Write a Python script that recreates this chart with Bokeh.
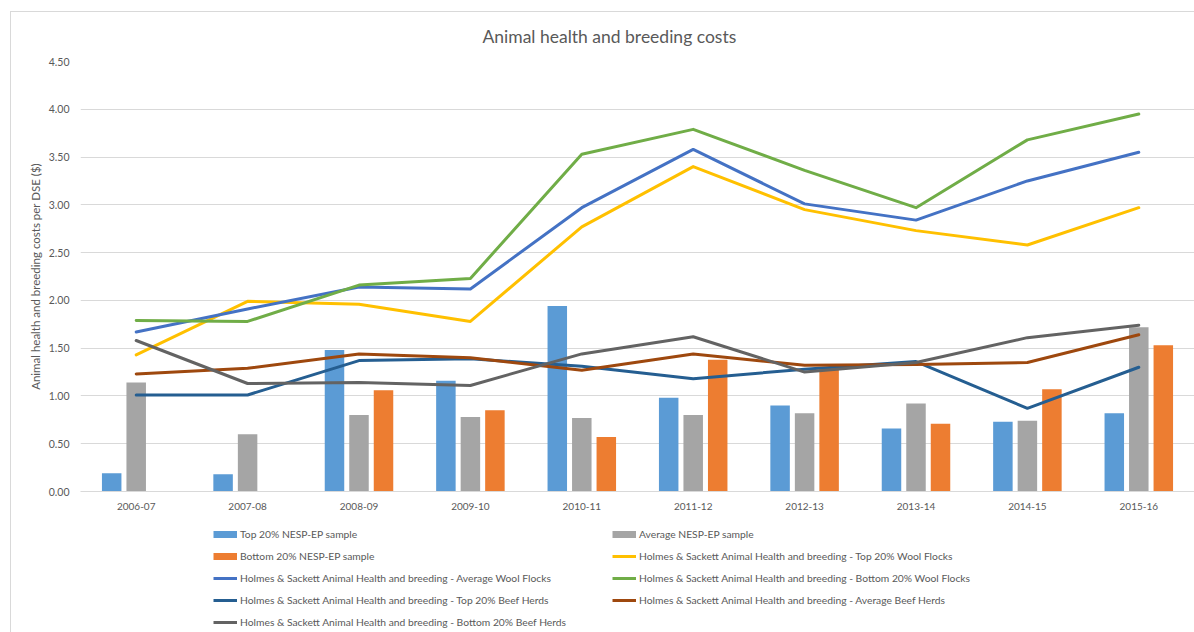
import numpy as np
from bokeh.plotting import figure
from bokeh.layouts import column
from bokeh.models import (ColumnDataSource, FactorRange, Range1d, Legend, LegendItem,
                          NumeralTickFormatter, FixedTicker, Div)
from bokeh.transform import dodge
from bokeh.embed import file_html
from bokeh.resources import INLINE

# ---------------- data ----------------
years = ["2006-07", "2007-08", "2008-09", "2009-10", "2010-11",
         "2011-12", "2012-13", "2013-14", "2014-15", "2015-16"]

top20_nesp = [0.19, 0.18, 1.48, 1.16, 1.94, 0.98, 0.90, 0.66, 0.73, 0.82]
avg_nesp = [1.14, 0.60, 0.80, 0.78, 0.77, 0.80, 0.82, 0.92, 0.74, 1.72]
bottom20_nesp = [np.nan, np.nan, 1.06, 0.85, 0.57, 1.38, 1.29, 0.71, 1.07, 1.53]

hs_top_wool = [1.43, 1.99, 1.96, 1.78, 2.77, 3.40, 2.95, 2.73, 2.58, 2.97]
hs_avg_wool = [1.67, 1.91, 2.14, 2.12, 2.97, 3.58, 3.01, 2.84, 3.25, 3.55]
hs_bottom_wool = [1.79, 1.78, 2.16, 2.23, 3.53, 3.79, 3.36, 2.97, 3.68, 3.95]
hs_top_beef = [1.01, 1.01, 1.37, 1.39, 1.31, 1.18, 1.28, 1.36, 0.87, 1.30]
hs_avg_beef = [1.23, 1.29, 1.44, 1.40, 1.27, 1.44, 1.32, 1.33, 1.35, 1.64]
hs_bottom_beef = [1.58, 1.13, 1.14, 1.11, 1.44, 1.62, 1.25, 1.35, 1.61, 1.74]

y_ticks = [0.0, 0.5, 1.0, 1.5, 2.0, 2.5, 3.0, 3.5, 4.0, 4.5]

title_text = "Animal health and breeding costs"
y_title = "Animal health and breeding costs per DSE ($)"

bar_series = [
    ("Top 20% NESP-EP sample", "top20_nesp", "#5B9BD5", -0.22),
    ("Average NESP-EP sample", "avg_nesp", "#A5A5A5", 0.0),
    ("Bottom 20% NESP-EP sample", "bottom20_nesp", "#ED7D31", 0.22),
]
line_series = [
    ("Holmes & Sackett Animal Health and breeding - Top 20% Wool Flocks", hs_top_wool, "#FFC000"),
    ("Holmes & Sackett Animal Health and breeding - Average Wool Flocks", hs_avg_wool, "#4472C4"),
    ("Holmes & Sackett Animal Health and breeding - Bottom 20% Wool Flocks", hs_bottom_wool, "#70AD47"),
    ("Holmes & Sackett Animal Health and breeding - Top 20% Beef Herds", hs_top_beef, "#255E91"),
    ("Holmes & Sackett Animal Health and breeding - Average Beef Herds", hs_avg_beef, "#9E480E"),
    ("Holmes & Sackett Animal Health and breeding - Bottom 20% Beef Herds", hs_bottom_beef, "#636363"),
]

FONT = "Lato"
TXT = "#595959"

source = ColumnDataSource(data=dict(
    year=years,
    top20_nesp=np.array(top20_nesp, dtype=float),
    avg_nesp=np.array(avg_nesp, dtype=float),
    bottom20_nesp=np.array(bottom20_nesp, dtype=float),
))

# ---------------- main chart ----------------
p = figure(x_range=FactorRange(*years), y_range=Range1d(0, 4.5),
           width=1194, height=520, output_backend="svg", toolbar_location=None,
           min_border_left=80, min_border_right=0, min_border_top=61, min_border_bottom=29)
p.outline_line_color = None
p.background_fill_color = "white"
p.border_fill_color = "white"

p.title.text = title_text
p.title.align = "left"
p.title.offset = 402
p.title.standoff = 30
p.title.text_font = FONT
p.title.text_font_size = "17.5px"
p.title.text_font_style = "normal"
p.title.text_color = TXT

for name, key, color, off in bar_series:
    p.vbar(x=dodge("year", off, range=p.x_range), top=key, width=0.175, source=source,
           fill_color=color, line_color=None)

for name, vals, color in line_series:
    p.line(x=years, y=vals, line_color=color, line_width=3,
           line_join="round", line_cap="round")

p.yaxis.ticker = FixedTicker(ticks=y_ticks)
p.yaxis.formatter = NumeralTickFormatter(format="0.00")
p.yaxis.axis_line_color = None
p.yaxis.major_tick_line_color = None
p.yaxis.minor_tick_line_color = None
p.yaxis.major_tick_out = 0
p.yaxis.major_tick_in = 0
p.yaxis.major_label_standoff = 11
p.yaxis.major_label_text_font = FONT
p.yaxis.major_label_text_font_size = "10.5px"
p.yaxis.major_label_text_color = TXT
p.yaxis.axis_label = y_title
p.yaxis.axis_label_text_font = FONT
p.yaxis.axis_label_text_font_size = "11.5px"
p.yaxis.axis_label_text_font_style = "normal"
p.yaxis.axis_label_text_color = TXT
p.yaxis.axis_label_standoff = 4

p.xaxis.axis_line_color = "#D9D9D9"
p.xaxis.major_tick_line_color = None
p.xaxis.minor_tick_line_color = None
p.xaxis.major_tick_out = 0
p.xaxis.major_tick_in = 0
p.xaxis.major_label_standoff = 11
p.xaxis.major_label_text_font = FONT
p.xaxis.major_label_text_font_size = "10px"
p.xaxis.major_label_text_color = TXT

p.xgrid.grid_line_color = None
p.ygrid.grid_line_color = "#D9D9D9"
p.ygrid.grid_line_width = 1

# ---------------- legend strip ----------------
q = figure(width=1194, height=112, output_backend="svg", toolbar_location=None,
           x_range=Range1d(0, 1), y_range=Range1d(0, 1),
           x_axis_location=None, y_axis_location=None,
           min_border_left=0, min_border_right=0, min_border_top=0, min_border_bottom=0)
q.outline_line_color = None
q.xgrid.grid_line_color = None
q.ygrid.grid_line_color = None
q.background_fill_color = "white"
q.border_fill_color = "white"

# legend swatch renderers (kept outside the visible range)
swatch = {}
for name, key, color, off in bar_series:
    swatch[name] = q.line(x=[0, 1], y=[-5, -5], line_color=color, line_width=7)
for name, vals, color in line_series:
    swatch[name] = q.line(x=[0, 1], y=[-5, -5], line_color=color, line_width=3)


def make_legend(entries, loc):
    return Legend(items=[LegendItem(label=n, renderers=[swatch[n]]) for n in entries],
                  location=loc, orientation="vertical",
                  glyph_width=24, glyph_height=22, label_height=22, spacing=0,
                  padding=0, margin=0, label_standoff=3,
                  border_line_color=None, background_fill_alpha=0,
                  label_text_font=FONT, label_text_font_size="10.3px",
                  label_text_color=TXT)


q.add_layout(make_legend([
    "Top 20% NESP-EP sample",
    "Bottom 20% NESP-EP sample",
    line_series[1][0],
    line_series[3][0],
    line_series[5][0],
], (133, -1)))
q.add_layout(make_legend([
    "Average NESP-EP sample",
    line_series[0][0],
    line_series[2][0],
    line_series[4][0],
], (532, 21)))

# thin chart-area border, as in the original
frame_div = Div(text="", width=1190, height=630,
                styles={"position": "absolute", "left": "5px", "top": "6px",
                        "width": "1190px", "height": "630px",
                        "border-left": "1px solid #D9D9D9", "border-top": "1px solid #D9D9D9",
                        "pointer-events": "none", "z-index": "5"})

layout = column(p, q, frame_div, spacing=0)
open("out.html", "w").write(file_html(layout, INLINE))
